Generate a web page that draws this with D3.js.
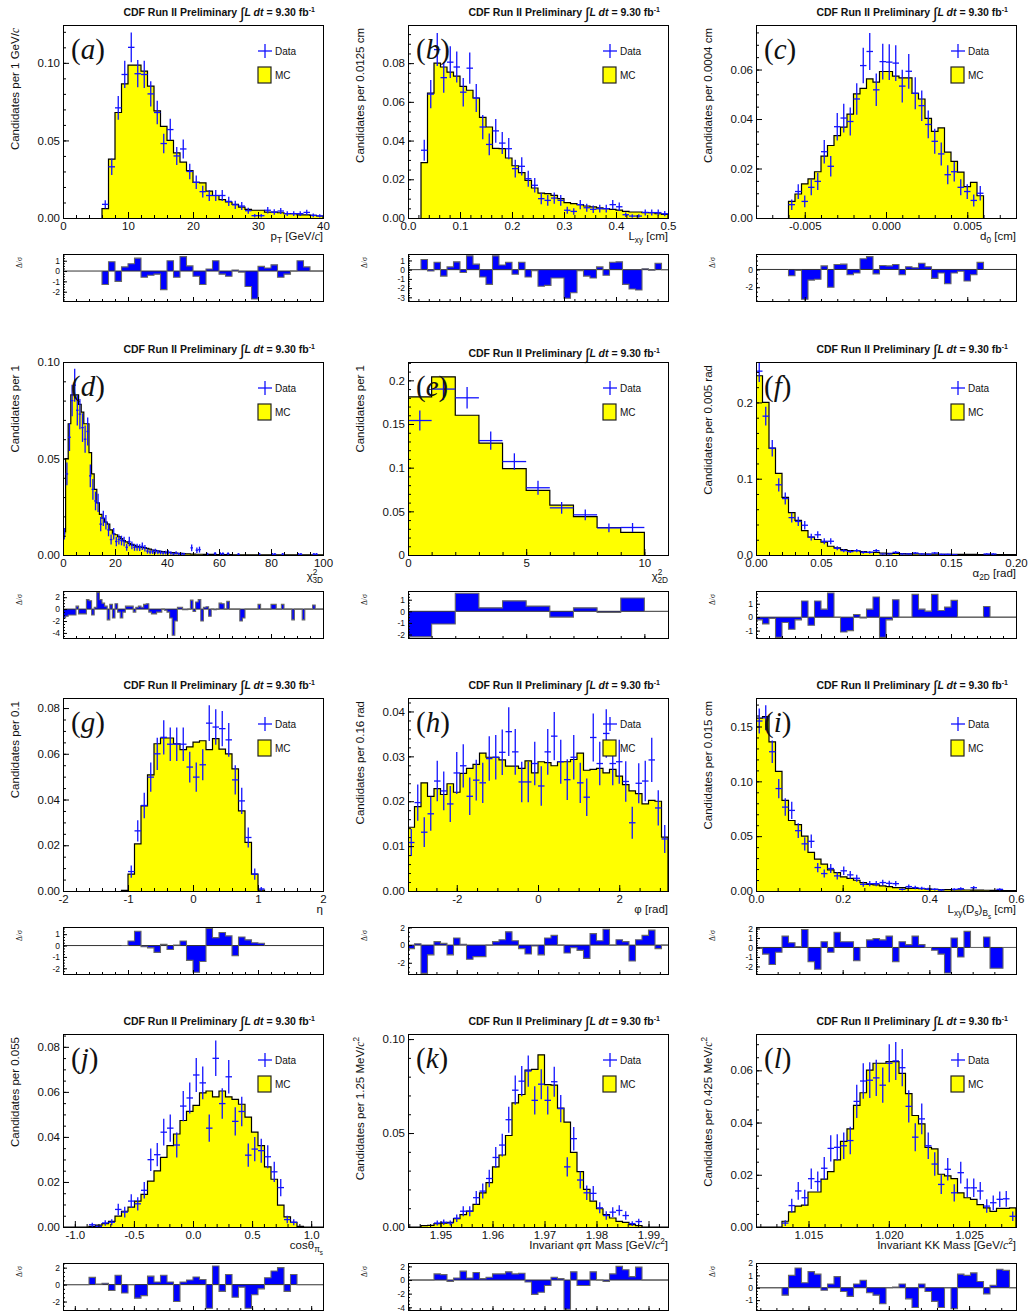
<!DOCTYPE html>
<html>
<head>
<meta charset="utf-8">
<title>CDF Run II Preliminary - Bs kinematics, data vs MC</title>
<script src="https://cdn.jsdelivr.net/npm/d3@7/dist/d3.min.js"></script>
<style>
  body { margin: 0; background: #fff; }
  text { font-family: "Liberation Sans", Arial, Helvetica, sans-serif; fill: #111; }
</style>
</head>
<body>
<div id="chart"></div>
<script>

// ---- (a) pT ----
var aRange = [6, 40];
var aMC = [0.006, 0.038, 0.068, 0.0865, 0.0985, 0.0985, 0.0947, 0.085, 0.069, 0.059,
  0.050, 0.042, 0.036, 0.0305, 0.023, 0.0227, 0.0173, 0.0145, 0.0118, 0.0103,
  0.0088, 0.007, 0.0056, 0.005, 0.005, 0.0038, 0.0038, 0.0034, 0.0028, 0.0028,
  0.002, 0.002, 0.0017, 0.0013];
var aData = [0.0088, 0.033, 0.071, 0.0925, 0.110, 0.093, 0.0925, 0.080, 0.068, 0.048,
  0.057, 0.040, 0.0445, 0.030, 0.023, 0.017, 0.0145, 0.0145, 0.0145, 0.0107,
  0.0085, 0.0077, 0.0047, 0.0015, 0.0015, 0.005, 0.0038, 0.0045, 0.0028, 0.0028,
  0.0028, 0.0036, 0.0017, 0.0013];
var aRes = [-1.3, 0.9, -1.0, 0.4, 0.7, 1.25, -0.6, -0.4, -0.3, -1.8,
  1.0, -0.6, 1.4, 0.5, -0.5, -1.3, 0.2, 1.0, -0.3, -0.5,
  0.1, -0.1, -1.5, -2.7, 0.45, 0.3, 0.6, -0.6, -0.3, 0,
  1.0, 0.4, 0, 0];

// ---- (b) Lxy ----
var bRange = [0.025, 0.5];
var bMC = [0.0286, 0.0645, 0.080, 0.078, 0.0754, 0.0733, 0.068, 0.066, 0.062, 0.052,
  0.047, 0.036, 0.0358, 0.031, 0.027, 0.0234, 0.0194, 0.0155, 0.0129, 0.0126,
  0.0117, 0.010, 0.0079, 0.0074, 0.0069, 0.0062, 0.0057, 0.0052, 0.0048, 0.0045,
  0.0041, 0.0034, 0.0031, 0.0031, 0.0028, 0.0028, 0.0022, 0.0019];
var bData = [0.035, 0.064, 0.087, 0.0725, 0.0805, 0.078, 0.065, 0.0774, 0.062, 0.047,
  0.038, 0.045, 0.0387, 0.0358, 0.0255, 0.0267, 0.0203, 0.0169, 0.010, 0.0091,
  0.0103, 0.0091, 0.004, 0.0034, 0.0069, 0.0053, 0.0045, 0.0048, 0.0048, 0.0069,
  0.0058, 0.0017, 0.001, 0.001, 0.0029, 0.0028, 0.0028, 0.0022];
var bRes = [1.1, -0.15, 0.8, -0.7, 0.3, 0.85, -0.3, 1.5, 0.6, -0.8,
  -1.6, 1.5, 0.5, 0.8, -0.5, 0.8, -0.8, -0.1, -1.8, -1.7,
  -0.9, -0.9, -3.1, -2.5, -0.1, -0.7, -0.9, 0.3, -0.6, 0.8,
  0.85, -1.6, -2.1, -2.2, 0.1, -0.05, 0.7, 0];

// ---- (c) d0 ----
var cRange = [-0.006, 0.006];
var cMC = [0.0067, 0.0097, 0.0138, 0.0158, 0.0187, 0.025, 0.0293, 0.0333, 0.0367, 0.042,
  0.0502, 0.0524, 0.0562, 0.0549, 0.0592, 0.0592, 0.0573, 0.0566, 0.0566, 0.0504,
  0.0481, 0.0403, 0.035, 0.0364, 0.0266, 0.0229, 0.0185, 0.0127, 0.0144, 0.009];
var cData = [0.0054, 0.0107, 0.0067, 0.0124, 0.0148, 0.0268, 0.0209, 0.0369, 0.0404, 0.039,
  0.0481, 0.0616, 0.0673, 0.0518, 0.0632, 0.063, 0.0626, 0.0533, 0.0593, 0.0504,
  0.0454, 0.0378, 0.031, 0.0259, 0.0175, 0.0187, 0.0124, 0.0107, 0.0071, 0.01];
var cRes = [-0.7, -0.1, -3.35, -1.2, -1.1, 0.4, -2.0, 0.55, 0.6, -0.6,
  -0.4, 1.2, 1.45, -0.5, 0.45, 0.4, 0.55, -0.6, 0.3, 0.2,
  0.7, 0.3, -1.0, -0.4, -1.6, -0.4, -0.2, -1.3, -0.6, 0.8];

// ---- (d) chi2 3D ----
var dRange = [0, 100];
var dMC = [0.012, 0.050, 0.068, 0.083, 0.083, 0.083, 0.078, 0.074, 0.068, 0.068,
  0.053, 0.042, 0.034, 0.027, 0.021, 0.019, 0.017, 0.016, 0.013, 0.011,
  0.0105, 0.0095, 0.0085, 0.0075, 0.0068, 0.006, 0.0055, 0.005, 0.0045, 0.0042,
  0.004, 0.0038, 0.0034, 0.003, 0.0026, 0.0024, 0.0021, 0.0019, 0.0017, 0.0015,
  0.0014, 0.0013, 0.0012, 0.001, 0.0009, 0.0008, 0.0007, 0.0006, 0.0006, 0.0005,
  0.0005, 0.0004, 0.0004, 0.0004, 0.0003, 0.0003, 0.0003, 0.0003, 0.0002, 0.0002,
  0.0002, 0.0002, 0.0002, 0.0002, 0.0002, 0.0001, 0.0001, 0.0001, 0.0001, 0.0001,
  0.0001, 0.0001, 0.0001, 0.0001, 0.0001, 0.0001, 0.0001, 0.0001, 0.0001, 0.0001,
  0.0001, 0.0001, 0.0001, 0.0001, 0.0001, 0.0001, 0.0001, 0.0001, 0.0001, 0.0001,
  0.0001, 0.0001, 0.0001, 0.0001, 0.0001, 0.0001, 0.0001, 0.0001, 0.0001, 0.0001];
var dData = [0.011, 0.042, 0.061, 0.080, 0.088, 0.075, 0.073, 0.066, 0.060, 0.064,
  0.041, 0.034, 0.028, 0.027, 0.016, 0.019, 0.017, 0.013, 0.008, 0.011,
  0.007, 0.008, 0.0075, 0.007, 0.004, 0.007, 0.005, 0.004, 0.004, 0.0038,
  0.0045, 0.0035, 0.002, 0.0015, 0.0017, 0.002, 0.0015, 0.0013, 0.001, 0.0012,
  0.0014, 0.001, 0.0005, 0.001, 0.0005, 0.0005, 0.0005, 0, 0, 0.0037,
  0, 0.0025, 0.0028, 0, 0, 0.0005, 0, 0, 0.0008, 0,
  0.0007, 0.0007, 0, 0.0007, 0, 0, 0, 0.0004, 0, 0,
  0, 0, 0, 0, 0, 0.0004, 0, 0, 0, 0,
  0.0004, 0.0004, 0, 0, 0.0004, 0, 0, 0, 0, 0,
  0.0004, 0.0004, 0, 0, 0, 0, 0.0004, 0.0004, 0, 0];
var dRes = [-1.5, -1.2, -1.0, -1.0, -1.0, 0.5, -0.8, -0.8, -0.8, 1.6,
  1.4, -1.0, 0.3, 2.8, 1.6, 1.0, 0.5, -1.8, 0.8, -1.5,
  0.9, -0.5, -1.5, -0.5, 0.5, 0.5, 0.5, -0.5, 0.3, 0.5,
  0.3, 0.8, 0.9, -0.5, -0.8, -0.8, -0.5, -0.5, 0, -0.2,
  -0.5, -1.5, -4.4, -2.0, 0.3, 0.3, -0.1, -0.1, 0, 1.5,
  -0.4, 1.2, 1.6, -2.0, 0.3, 0.4, -1.2, 0, -0.1, 0,
  1.0, 0.9, 0, 1.3, 0, 0, 0, 0, -2.0, -1.5,
  0, 0, 0, 0, 0, 0.8, 0, 0, 0, 0,
  0.8, 0.8, 0, 0, 0.8, 0, 0, 0, -1.8, 0,
  0, 0, -1.8, 0, 0, 0, 0.7, 0, 0, 0];

// ---- (e) chi2 2D ----
var eRange = [0, 10];
var eMC = [0.181, 0.204, 0.160, 0.128, 0.099, 0.074, 0.057, 0.044, 0.0315, 0.026];
var eData = [0.154, 0.19, 0.18, 0.131, 0.107, 0.077, 0.054, 0.046, 0.031, 0.0315];
var eRes = [-2.2, -1.1, 1.55, 0.3, 0.9, 0.45, -0.5, 0.3, -0.1, 1.15];

// ---- (f) alpha 2D ----
var fRange = [0, 0.2];
var fMC = [0.235, 0.2, 0.140, 0.107, 0.0755, 0.0556, 0.0455, 0.032, 0.0234, 0.0203,
  0.0168, 0.0115, 0.0093, 0.007, 0.0057, 0.0057, 0.0044, 0.0035, 0.0035, 0.0026,
  0.0022, 0.002, 0.0018, 0.0016, 0.0014, 0.0013, 0.0012, 0.0011, 0.001, 0.0009,
  0.0008, 0.0008, 0.0007, 0.0007, 0.0006, 0.0006, 0.0005, 0.0005, 0.0005, 0.0004];
var fData = [0.241, 0.182, 0.14, 0.092, 0.074, 0.049, 0.044, 0.039, 0.0234, 0.0265,
  0.018, 0.018, 0.0088, 0.0057, 0.0044, 0.0057, 0.0035, 0.0035, 0.0057, 0.0013,
  0.0013, 0.0035, 0.0013, 0.0013, 0.0026, 0.0013, 0.0009, 0.0026, 0.0009, 0.0009,
  0.0004, 0, 0, 0, 0, 0.0013, 0.0013, 0, 0, 0];
var fRes = [-0.2, -0.5, -0.1, -1.5, -0.4, -0.9, -0.2, 1.2, -0.6, 1.2,
  0.6, 1.8, 0, -1.1, -1.0, 0.2, -0.05, 0.6, 1.5, -1.5,
  -0.2, 1.3, 0, 0, 1.7, 0.6, 0.45, 1.7, 0.5, 0.75,
  1.25, 0, 0, 0, 0, 0.8, 0, 0, 0, 0];

// ---- (g) eta ----
var gRange = [-1.1, 1.1];
var gMC = [0.0003, 0.0074, 0.0206, 0.0372, 0.0508, 0.0644, 0.0669, 0.0669, 0.0644, 0.0618,
  0.063, 0.0651, 0.0657, 0.0618, 0.0666, 0.062, 0.060, 0.0534, 0.035, 0.0213,
  0.0074, 0.0004];
var gData = [0, 0.0085, 0.0263, 0.0374, 0.0498, 0.060, 0.0672, 0.0642, 0.0642, 0.0642,
  0.0542, 0.0498, 0.0552, 0.0734, 0.0717, 0.071, 0.0661, 0.0486, 0.0394, 0.0234,
  0.0074, 0.0009];
var gRes = [0, 0.4, 1.25, -0.1, -0.2, -0.6, 0.1, -0.35, 0.05, 0.4,
  -1.3, -2.35, -1.4, 1.5, 0.7, 1.15, 0.85, -0.9, 0.75, 0.5,
  0.25, 0.2];

// ---- (h) phi ----
var hRange = [-3.2, 3.2];
var hMC = [0.0142, 0.0188, 0.0241, 0.0211, 0.0228, 0.0215, 0.0239, 0.022, 0.0262, 0.0273,
  0.0282, 0.0307, 0.0298, 0.0298, 0.0292, 0.0278, 0.0278, 0.0273, 0.029, 0.0263,
  0.0288, 0.0286, 0.0279, 0.0288, 0.0288, 0.0293, 0.0307, 0.0269, 0.0271, 0.0273,
  0.0263, 0.0271, 0.0256, 0.0237, 0.0223, 0.0217, 0.0194, 0.0202, 0.02, 0.012];
var hData = [0.0108, 0.0197, 0.0131, 0.0172, 0.0245, 0.0223, 0.0194, 0.0263, 0.0279, 0.0211,
  0.0247, 0.0241, 0.0295, 0.0298, 0.0309, 0.0355, 0.031, 0.0243, 0.0243, 0.0284,
  0.0234, 0.031, 0.0345, 0.0288, 0.0248, 0.0298, 0.0241, 0.0209, 0.0342, 0.0284,
  0.0351, 0.0284, 0.0288, 0.0244, 0.0152, 0.024, 0.0245, 0.0292, 0.0185, 0.0116];
var hRes = [-0.4, 0.15, -3.2, -1.1, 0.4, 0.2, -1.1, 0.8, 0.1, -1.6,
  -1.3, -1.3, 0, 0.4, 0.6, 1.5, 0.5, -0.4, -1.0, -0.1,
  -1.1, 0.8, 1.1, 0, -0.9, -0.3, -0.6, -1.5, 1.3, 0.5,
  1.8, 0, 0.6, 0.4, -1.8, 0.6, 1.1, 1.7, -0.4, 0];

// ---- (i) Lxy(Ds) wrt Bs ----
var iRange = [0, 0.6];
var iMC = [0.1576, 0.159, 0.136, 0.109, 0.0826, 0.0643, 0.0606, 0.050, 0.0352, 0.029,
  0.0245, 0.0193, 0.0168, 0.0129, 0.0116, 0.0098, 0.0077, 0.0061, 0.0055, 0.0046,
  0.004, 0.0031, 0.0031, 0.0024, 0.0024, 0.0021, 0.0018, 0.0015, 0.0012, 0.0012,
  0.001, 0.001, 0.0009, 0.0008, 0.0008, 0.0007, 0.0006, 0.0005, 0.0004, 0.0004];
var iData = [0.155, 0.158, 0.127, 0.0934, 0.0765, 0.0735, 0.055, 0.043, 0.0453, 0.0214,
  0.0159, 0.0205, 0.0138, 0.0184, 0.0147, 0.0116, 0.0061, 0.0067, 0.0067, 0.0077,
  0.007, 0.0067, 0.0015, 0.004, 0.0031, 0.0024, 0.0018, 0.0015, 0.0009, 0,
  0.0015, 0.0021, 0, 0.003, 0, 0, 0, 0.0015, 0, 0];
var iRes = [-0.1, -0.7, -1.8, -0.5, 1.2, 0.5, 0.1, 1.9, -1.5, -2.3,
  0.6, -0.5, 1.6, 0.6, 0.6, -1.4, 0, 0.8, 0.95, 0.8,
  1.2, -1.5, 0.6, 0.3, 1.2, 0.3, 0, -0.3, -0.7, -2.7,
  1.0, -1.0, 1.7, 0, 0, 1.1, -2.2, -2.2, 0, 0];

// ---- (j) cos theta ----
var jRange = [-1.1, 1.1];
var jMC = [0, 0, 0, 0, 0.0003, 0.0008, 0.0015, 0.0025, 0.0048, 0.007,
  0.0088, 0.0115, 0.0145, 0.0204, 0.0249, 0.0309, 0.0361, 0.0413, 0.0473, 0.0513,
  0.054, 0.0596, 0.0604, 0.0578, 0.0604, 0.0578, 0.0567, 0.0545, 0.0488, 0.0421,
  0.0361, 0.0267, 0.0212, 0.0097, 0.0045, 0.0021, 0.0003, 0, 0, 0];
var jData = [0, 0, 0, 0, 0.001, 0.0003, 0.0018, 0.0021, 0.0078, 0.0066,
  0.0115, 0.0103, 0.0163, 0.0299, 0.0321, 0.0421, 0.0439, 0.0364, 0.0537, 0.0573,
  0.0675, 0.064, 0.0439, 0.0749, 0.0548, 0.0667, 0.0469, 0.0513, 0.0319, 0.0346,
  0.0339, 0.0312, 0.0245, 0.0175, 0.0033, 0.0021, 0, 0, 0, 0];
var jRes = [0, 0, 0, 0, 0.85, 0.05, 0.15, -0.7, 1.1, -1.0,
  0, -1.6, -1.3, 1.0, 0.3, 1.1, 0.3, -2.0, 0.3, 0.55,
  0.9, 0.6, -2.8, 2.2, -0.8, 1.2, -1.5, -0.3, -2.8, -1.2,
  -0.5, 0.8, 1.6, 2.0, -0.8, 1.2, 0, 0, 0, 0];

// ---- (k) phi pi mass ----
var kRange = [1.94375, 1.99375];
var kMC = [0, 0, 0.0007, 0.0009, 0.0018, 0.0021, 0.0025, 0.0045, 0.0066, 0.0084,
  0.012, 0.0182, 0.0236, 0.032, 0.0383, 0.0487, 0.066, 0.0705, 0.0835, 0.0839,
  0.0916, 0.0758, 0.0755, 0.0633, 0.0558, 0.0397, 0.0295, 0.02, 0.0138, 0.0097,
  0.0066, 0.0048, 0.003, 0.0025, 0.0013, 0.0007, 0, 0, 0, 0];
var kData = [0, 0, 0, 0, 0.0021, 0.0025, 0.0021, 0.0047, 0.0084, 0.0084,
  0.0156, 0.0191, 0.0258, 0.037, 0.0436, 0.0571, 0.0728, 0.0776, 0.083, 0.0674,
  0.076, 0.0674, 0.0773, 0.063, 0.032, 0.047, 0.025, 0.0182, 0.0179, 0.0102,
  0.0061, 0.0079, 0.0088, 0.0061, 0.0018, 0.0029, 0, 0, 0, 0];
var kRes = [0, 0, 0, 0, 0.9, 0.8, -0.2, 0.3, 1.3, 0.3,
  1.1, 0.2, 0.4, 0.9, 0.9, 1.2, 0.9, 1.0, -0.3, -2.1,
  -1.8, -0.8, 0.4, 0.2, -4.3, 1.2, -0.8, -0.8, 1.2, 0,
  -0.2, 0.9, 2.0, 1.5, 0.5, 1.9, 0, 0, 0, 0];

// ---- (l) KK mass ----
var lRange = [1.01173, 1.02792];
var lMC = [0, 0, 0, 0, 0.0022, 0.0058, 0.008, 0.0084, 0.0134, 0.0134,
  0.0183, 0.0212, 0.0257, 0.0328, 0.0376, 0.0466, 0.0514, 0.0601, 0.0627, 0.0627,
  0.0633, 0.0633, 0.0588, 0.0511, 0.0427, 0.0395, 0.0305, 0.0299, 0.0202, 0.0196,
  0.0185, 0.0131, 0.0112, 0.0106, 0.0086, 0.0073, 0.006, 0.0071, 0.0071, 0.0073];
var lData = [0, 0, 0, 0, 0.0015, 0.0082, 0.0138, 0.0112, 0.0185, 0.0174,
  0.0225, 0.0301, 0.0305, 0.0311, 0.0331, 0.0481, 0.0559, 0.0562, 0.0571, 0.0543,
  0.0627, 0.0636, 0.061, 0.0462, 0.0344, 0.0414, 0.0311, 0.0241, 0.0163, 0.0221,
  0.0131, 0.0208, 0.015, 0.015, 0.0138, 0.008, 0.0093, 0.0106, 0.0108, 0.0041];
var lRes = [0, 0, 0, 0, -0.6, 1.0, 1.6, 0.4, 1.3, 1.1,
  -0.2, 0.3, 0.9, -0.3, -0.7, 0.3, 0.6, -0.4, -0.6, -1.3,
  0, 0.05, 0.3, -0.9, -1.6, 0.3, -0.3, -1.1, -1.6, 0,
  -1.7, 1.1, 1.0, 1.2, 0.5, -0.5, 0.2, 1.5, 1.4, 0];


// data histograms are normalised to unit area; error bar = sqrt(n)/N
var N_EVENTS = 1200;

var colL = [63, 408, 756];
var rowT = [25, 362, 698, 1034];
var W = 260, H = 193, RES_OFF = 229, RES_H = 47;

var GEV = [["Candidates per 1 GeV/"], ["c", "i"]];

var panels = [
  {key: "a", col: 0, row: 0, hist: aRange, mc: aMC, data: aData, res: aRes,
   xDomain: [0, 40], xMajor: 10, xMinor: 2, xFmt: "d",
   yMax: 0.1244, yMajor: 0.05, yMinor: 0.01, yFmt: ".2f",
   resDomain: [-2.9, 1.65], resMajor: 1,
   yLabel: GEV, xLabel: [["p"], ["T", "sub"], [" [GeV/"], ["c", "i"], ["]"]]},
  {key: "b", col: 1, row: 0, hist: bRange, mc: bMC, data: bData, res: bRes,
   xDomain: [0, 0.5], xMajor: 0.1, xMinor: 0.02, xFmt: ".1f",
   yMax: 0.0997, yMajor: 0.02, yMinor: 0.005, yFmt: ".2f",
   resDomain: [-3.4, 1.7], resMajor: 1,
   yLabel: [["Candidates per 0.0125 cm"]], xLabel: [["L"], ["xy", "sub"], [" [cm]"]]},
  {key: "c", col: 2, row: 0, hist: cRange, mc: cMC, data: cData, res: cRes,
   xDomain: [-0.008, 0.008], xMajor: 0.005, xMinor: 0.001, xFmt: ".3f",
   yMax: 0.078, yMajor: 0.02, yMinor: 0.005, yFmt: ".2f",
   resDomain: [-3.55, 1.74], resMajor: 2,
   yLabel: [["Candidates per 0.0004 cm"]], xLabel: [["d"], ["0", "sub"], [" [cm]"]]},
  {key: "d", col: 0, row: 1, hist: dRange, mc: dMC, data: dData, res: dRes,
   xDomain: [0, 100], xMajor: 20, xMinor: 5, xFmt: "d",
   yMax: 0.1, yMajor: 0.05, yMinor: 0.01, yFmt: ".2f",
   resDomain: [-4.85, 3.04], resMajor: 2, xLabelDy: 3,
   yLabel: [["Candidates per 1"]], xLabel: [["χ"], ["2", "sup"], ["3D", "sub", -5]]},
  {key: "e", col: 1, row: 1, hist: eRange, mc: eMC, data: eData, res: eRes,
   xDomain: [0, 11], xMajor: 5, xMinor: 1, xFmt: "d",
   yMax: 0.221, yMajor: 0.05, yMinor: 0.01, yFmt: "~g",
   resDomain: [-2.3, 1.75], resMajor: 1, titleDy: 4, xLabelDy: 3,
   yLabel: [["Candidates per 1"]], xLabel: [["χ"], ["2", "sup"], ["2D", "sub", -5]]},
  {key: "f", col: 2, row: 1, hist: fRange, mc: fMC, data: fData, res: fRes,
   xDomain: [0, 0.2], xMajor: 0.05, xMinor: 0.01, xFmt: ".2f",
   yMax: 0.253, yMajor: 0.1, yMinor: 0.02, yFmt: ".1f",
   resDomain: [-1.55, 1.95], resMajor: 1,
   yLabel: [["Candidates per 0.005 rad"]], xLabel: [["α"], ["2D", "sub"], [" [rad]"]]},
  {key: "g", col: 0, row: 2, hist: gRange, mc: gMC, data: gData, res: gRes,
   xDomain: [-2, 2], xMajor: 1, xMinor: 0.2, xFmt: "d",
   yMax: 0.0844, yMajor: 0.02, yMinor: 0.005, yFmt: ".2f",
   resDomain: [-2.5, 1.63], resMajor: 1,
   yLabel: [["Candidates per 0.1"]], xLabel: [["η"]]},
  {key: "h", col: 1, row: 2, hist: hRange, mc: hMC, data: hData, res: hRes,
   xDomain: [-3.2, 3.2], xMajor: 2, xMinor: 0.5, xFmt: "d",
   yMax: 0.043, yMajor: 0.01, yMinor: 0.002, yFmt: ".2f",
   resDomain: [-3.27, 2.05], resMajor: 2,
   yLabel: [["Candidates per 0.16 rad"]], xLabel: [["φ [rad]"]]},
  {key: "i", col: 2, row: 2, hist: iRange, mc: iMC, data: iData, res: iRes,
   xDomain: [0, 0.6], xMajor: 0.2, xMinor: 0.05, xFmt: ".1f",
   yMax: 0.176, yMajor: 0.05, yMinor: 0.01, yFmt: ".2f",
   resDomain: [-2.8, 2.16], resMajor: 1,
   yLabel: [["Candidates per 0.015 cm"]],
   xLabel: [["L"], ["xy", "sub"], ["(D"], ["s", "sub"], [")"], ["B", "sub"], ["s", "subsub"], [" [cm]"]]},
  {key: "j", col: 0, row: 3, hist: jRange, mc: jMC, data: jData, res: jRes,
   xDomain: [-1.1, 1.1], xMajor: 0.5, xMinor: 0.1, xFmt: ".1f",
   yMax: 0.0857, yMajor: 0.02, yMinor: 0.005, yFmt: ".2f",
   resDomain: [-3.0, 2.55], resMajor: 2,
   yLabel: [["Candidates per 0.055"]], xLabel: [["cosθ"], ["π", "sub"], ["s", "subsub"]]},
  {key: "k", col: 1, row: 3, hist: kRange, mc: kMC, data: kData, res: kRes,
   xDomain: [1.94375, 1.99375], xMajor: 0.01, xMinor: 0.002, xFmt: ".2f",
   yMax: 0.1027, yMajor: 0.05, yMinor: 0.01, yFmt: ".2f",
   resDomain: [-4.4, 2.5], resMajor: 2,
   yLabel: [["Candidates per 1.25 MeV/"], ["c", "i"], ["2", "sup"]],
   xLabel: [["Invariant φπ Mass [GeV/"], ["c", "i"], ["2", "sup"], ["]"]]},
  {key: "l", col: 2, row: 3, hist: lRange, mc: lMC, data: lData, res: lRes,
   xDomain: [1.01173, 1.02792], xMajor: 0.005, xMinor: 0.001, xFmt: ".3f",
   yMax: 0.0739, yMajor: 0.02, yMinor: 0.005, yFmt: ".2f",
   resDomain: [-1.8, 2.0], resMajor: 1,
   yLabel: [["Candidates per 0.425 MeV/"], ["c", "i"], ["2", "sup"]],
   xLabel: [["Invariant KK Mass [GeV/"], ["c", "i"], ["2", "sup"], ["]"]]}
];


var svg = d3.select("#chart").append("svg")
  .attr("width", 1029)
  .attr("height", 1313);
svg.append("rect").attr("width", 1029).attr("height", 1313).attr("fill", "#fff");

function fmt(f) {
  var ff = d3.format(f);
  return function (v) { return ff(v).replace("\u2212", "-"); };
}

// tick positions that fall inside the domain, on multiples of step
function tickList(domain, step) {
  var lo = Math.min(domain[0], domain[1]), hi = Math.max(domain[0], domain[1]);
  return d3.range(Math.ceil(lo / step - 1e-6), Math.floor(hi / step + 1e-6) + 1)
    .map(function (k) { return +(k * step).toFixed(9); });
}

// text with ROOT-like sub/superscripts
function rich(sel, parts, size) {
  var shift = 0;
  parts.forEach(function (p) {
    var s = p[1] || "";
    var target = s === "sub" ? size * 0.3 : s === "sup" ? -size * 0.4 : s === "subsub" ? size * 0.5 : 0;
    var ts = sel.append("tspan").text(p[0]).attr("dy", target - shift);
    if (p[2]) ts.attr("dx", p[2]);
    shift = target;
    if (s === "sub" || s === "sup") ts.attr("font-size", size * 0.72);
    if (s === "subsub") ts.attr("font-size", size * 0.55);
    if (s === "i") ts.attr("font-style", "italic").attr("font-family", "Liberation Serif, serif");
  });
}

function styleAxis(ax, size) {
  ax.select(".domain").remove();
  ax.selectAll("line").attr("stroke", "#000");
  ax.attr("font-size", size);
}

function stepPath(x, y, edge, vals, n, closed) {
  var pts = vals.map(function (v, i) { return [edge(i), v]; });
  pts.push([edge(n), vals[n - 1]]);
  if (closed) pts = [[edge(0), 0]].concat(pts, [[edge(n), 0]]);
  return pts;
}

function drawPanel(p) {
  var L = colL[p.col], T = rowT[p.row];
  var g = svg.append("g").attr("transform", "translate(" + L + "," + T + ")");
  var x = d3.scaleLinear().domain(p.xDomain).range([0, W]);
  var y = d3.scaleLinear().domain([0, p.yMax]).range([H, 0]);
  var n = p.mc.length;
  var bw = (p.hist[1] - p.hist[0]) / n;
  var edge = function (i) { return p.hist[0] + i * bw; };

  // title
  var t = g.append("text")
    .attr("x", 252).attr("y", -9 + (p.titleDy || 0))
    .attr("text-anchor", "end")
    .attr("font-size", 10.5)
    .attr("font-weight", "bold");
  t.append("tspan").text("CDF Run II Preliminary ");
  t.append("tspan").attr("font-size", 16).attr("font-weight", "normal").attr("dy", 3).text("∫");
  t.append("tspan").attr("dy", -3).attr("font-style", "italic").text("L dt");
  t.append("tspan").text(" = 9.30 fb");
  t.append("tspan").attr("font-size", 7).attr("dy", -4).text("-1");

  g.append("clipPath").attr("id", "clip" + p.key)
    .append("rect").attr("width", W).attr("height", H);
  var plot = g.append("g").attr("clip-path", "url(#clip" + p.key + ")");

  // MC histogram
  var lineXY = d3.line().curve(d3.curveStepAfter)
    .x(function (d) { return x(d[0]); })
    .y(function (d) { return y(d[1]); });
  plot.append("path")
    .datum(stepPath(x, y, edge, p.mc, n, false))
    .attr("fill", "#ffff00")
    .attr("d", d3.area().curve(d3.curveStepAfter)
      .x(function (d) { return x(d[0]); })
      .y0(y(0))
      .y1(function (d) { return y(d[1]); }));
  plot.append("path")
    .datum(stepPath(x, y, edge, p.mc, n, true))
    .attr("fill", "none")
    .attr("stroke", "#000")
    .attr("stroke-width", 1.2)
    .attr("d", lineXY);

  // data points
  var pts = p.data.map(function (v, i) { return {v: v, i: i}; })
    .filter(function (d) { return d.v > 0; });
  var cross = plot.selectAll(".pt").data(pts).enter().append("g")
    .attr("class", "pt")
    .attr("stroke", "#1212ff")
    .attr("stroke-width", 1.3);
  cross.append("line")
    .attr("x1", function (d) { return x(edge(d.i)); })
    .attr("x2", function (d) { return x(edge(d.i + 1)); })
    .attr("y1", function (d) { return y(d.v); })
    .attr("y2", function (d) { return y(d.v); });
  cross.append("line")
    .attr("x1", function (d) { return x(edge(d.i) + bw / 2); })
    .attr("x2", function (d) { return x(edge(d.i) + bw / 2); })
    .attr("y1", function (d) { return y(d.v - Math.sqrt(d.v / N_EVENTS)); })
    .attr("y2", function (d) { return y(d.v + Math.sqrt(d.v / N_EVENTS)); });

  // axes (ticks inside the frame, ROOT style)
  var ax = g.append("g").attr("transform", "translate(0," + H + ")")
    .call(d3.axisBottom(x).tickValues(tickList(p.xDomain, p.xMinor)).tickSize(-3).tickFormat(""));
  styleAxis(ax, 11.5);
  ax = g.append("g").attr("transform", "translate(0," + H + ")")
    .call(d3.axisBottom(x).tickValues(tickList(p.xDomain, p.xMajor)).tickSize(-6).tickPadding(4).tickFormat(fmt(p.xFmt)));
  styleAxis(ax, 11.5);
  ax = g.append("g")
    .call(d3.axisLeft(y).tickValues(tickList([0, p.yMax], p.yMinor)).tickSize(-3).tickFormat(""));
  styleAxis(ax, 11.5);
  ax = g.append("g")
    .call(d3.axisLeft(y).tickValues(tickList([0, p.yMax], p.yMajor)).tickSize(-6).tickPadding(3).tickFormat(fmt(p.yFmt)));
  styleAxis(ax, 11.5);

  g.append("rect")
    .attr("width", W).attr("height", H)
    .attr("fill", "none").attr("stroke", "#000").attr("stroke-width", 1)
    .attr("shape-rendering", "crispEdges");

  // axis titles
  rich(g.append("text")
    .attr("x", W).attr("y", H + 22 + (p.xLabelDy || 0))
    .attr("text-anchor", "end")
    .attr("font-size", 11.5), p.xLabel, 11.5);
  rich(g.append("text")
    .attr("transform", "translate(-44,3) rotate(-90)")
    .attr("text-anchor", "end")
    .attr("font-size", 11.5), p.yLabel, 11.5);

  // panel letter
  var lab = g.append("text")
    .attr("x", 8).attr("y", 34)
    .attr("font-size", 29)
    .style("font-family", "'Liberation Serif', 'DejaVu Serif', serif");
  lab.append("tspan").text("(");
  lab.append("tspan").attr("font-style", "italic").text(p.key);
  lab.append("tspan").text(")");

  // legend
  var lg = g.append("g");
  lg.append("line").attr("x1", 195).attr("x2", 209).attr("y1", 26).attr("y2", 26)
    .attr("stroke", "#1212ff").attr("stroke-width", 1.3);
  lg.append("line").attr("x1", 202).attr("x2", 202).attr("y1", 19).attr("y2", 33)
    .attr("stroke", "#1212ff").attr("stroke-width", 1.3);
  lg.append("text").attr("x", 212).attr("y", 30).attr("font-size", 10).text("Data");
  lg.append("rect").attr("x", 195).attr("y", 42).attr("width", 13).attr("height", 16)
    .attr("fill", "#ffff00").attr("stroke", "#222").attr("stroke-width", 1.2);
  lg.append("text").attr("x", 212).attr("y", 54).attr("font-size", 10).text("MC");

  // residual pad
  var r = svg.append("g").attr("transform", "translate(" + L + "," + (T + RES_OFF) + ")");
  var yr = d3.scaleLinear().domain(p.resDomain).range([RES_H, 0]);
  r.append("clipPath").attr("id", "rclip" + p.key)
    .append("rect").attr("width", W).attr("height", RES_H);
  var rp = r.append("g").attr("clip-path", "url(#rclip" + p.key + ")");
  rp.append("path")
    .datum(stepPath(x, yr, edge, p.res, n, false))
    .attr("fill", "#0000ff")
    .attr("d", d3.area().curve(d3.curveStepAfter)
      .x(function (d) { return x(d[0]); })
      .y0(yr(0))
      .y1(function (d) { return yr(d[1]); }));
  rp.append("line")
    .attr("x1", 0).attr("x2", W).attr("y1", yr(0)).attr("y2", yr(0))
    .attr("stroke", "#333").attr("stroke-width", 1);
  rp.append("path")
    .datum(stepPath(x, yr, edge, p.res, n, true))
    .attr("fill", "none")
    .attr("stroke", "#666")
    .attr("stroke-width", 1.1)
    .attr("d", d3.line().curve(d3.curveStepAfter)
      .x(function (d) { return x(d[0]); })
      .y(function (d) { return yr(d[1]); }));

  ax = r.append("g").attr("transform", "translate(0," + RES_H + ")")
    .call(d3.axisBottom(x).tickValues(tickList(p.xDomain, p.xMinor)).tickSize(-2).tickFormat(""));
  styleAxis(ax, 9);
  ax = r.append("g").attr("transform", "translate(0," + RES_H + ")")
    .call(d3.axisBottom(x).tickValues(tickList(p.xDomain, p.xMajor)).tickSize(-4).tickFormat(""));
  styleAxis(ax, 9);
  ax = r.append("g")
    .call(d3.axisLeft(yr).tickValues(tickList(p.resDomain, p.resMajor / 4)).tickSize(-2).tickFormat(""));
  styleAxis(ax, 9);
  ax = r.append("g")
    .call(d3.axisLeft(yr).tickValues(tickList(p.resDomain, p.resMajor)).tickSize(-4).tickPadding(3).tickFormat(fmt("d")));
  styleAxis(ax, 8.5);

  r.append("rect")
    .attr("width", W).attr("height", RES_H)
    .attr("fill", "none").attr("stroke", "#000").attr("stroke-width", 1)
    .attr("shape-rendering", "crispEdges");
  r.append("text")
    .attr("transform", "translate(-41,3) rotate(-90)")
    .attr("text-anchor", "end")
    .attr("font-size", 7.5)
    .style("font-family", "'Liberation Serif', serif")
    .text("Δ/σ");
}

panels.forEach(drawPanel);

</script>
</body>
</html>
